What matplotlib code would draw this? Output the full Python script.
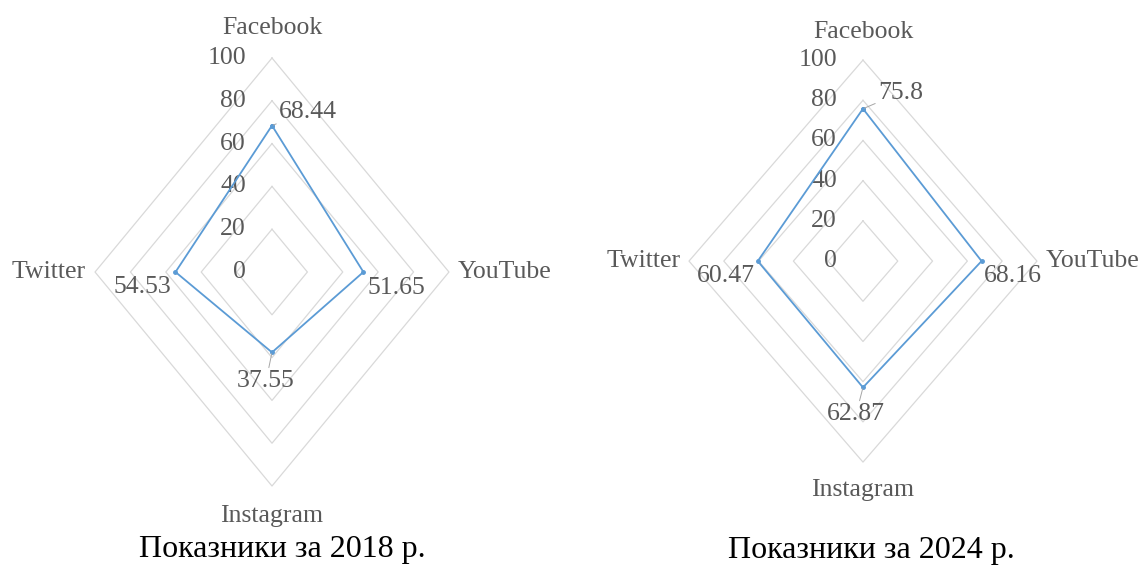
import numpy as np
import matplotlib
matplotlib.use('Agg')
import matplotlib.pyplot as plt

# Дані
categories = ['Facebook', 'YouTube', 'Instagram', 'Twitter']
values_2018 = [68.44, 51.65, 37.55, 54.53]
values_2024 = [75.8, 68.16, 62.87, 60.47]
ticks = [0, 20, 40, 60, 80, 100]
titles = ['Показники за 2018 р.', 'Показники за 2024 р.']

plt.rcParams['font.family'] = ['Liberation Serif', 'DejaVu Serif']

grey_txt = '#595959'
grid_col = '#d9d9d9'
line_col = '#5b9bd5'

# напрямки осей: вгору, вправо, вниз, вліво
dirs = np.array([[0, 1], [1, 0], [0, -1], [-1, 0]])

fig = plt.figure(figsize=(11.45, 5.65), dpi=100)


def radar(ax, vals, lab_off, leader):
    # кільця сітки
    for t in ticks[1:]:
        pts = np.vstack([dirs * t, dirs[:1] * t])
        ax.plot(pts[:, 0], pts[:, 1], color=grid_col, lw=0.9, zorder=1)
    # підписи шкали
    for t in ticks:
        ax.annotate(str(t), (0, t), xytext=(-26, 0), textcoords='offset pixels',
                    ha='right', va='center', fontsize=18.5, color=grey_txt)
    # ряд
    v = np.array(vals)
    pts = dirs * v[:, None]
    pts = np.vstack([pts, pts[:1]])
    ax.plot(pts[:, 0], pts[:, 1], color=line_col, lw=1.3, marker='o', ms=2.5, zorder=3)
    # назви категорій
    ax.text(0, 114, categories[0], ha='center', va='center', fontsize=18.5, color=grey_txt)
    ax.text(105, 0, categories[1], ha='left', va='center', fontsize=18.5, color=grey_txt)
    ax.text(0, -114, categories[2], ha='center', va='center', fontsize=18.5, color=grey_txt)
    ax.text(-105, 0, categories[3], ha='right', va='center', fontsize=18.5, color=grey_txt)
    # підписи даних
    has = ['left', 'left', 'center', 'right']
    for i in range(4):
        kw = {}
        if leader[i]:
            kw['arrowprops'] = dict(arrowstyle='-', color='#a6a6a6', lw=0.7,
                                    shrinkA=0, shrinkB=1)
        ax.annotate(f'{vals[i]:g}', pts[i], xytext=lab_off[i], textcoords='offset pixels',
                    ha=has[i], va='center', fontsize=18.5, color=grey_txt, **kw)
    ax.axis('off')


ax1 = fig.add_axes([0, 0, 570 / 1145, 1])
ax1.set_xlim(-153.7, 168.4)
ax1.set_ylim(-136.9, 127.1)
radar(ax1, values_2018,
      [(7, 14), (4, -16), (-6, -29), (-4, -15)],
      [True, False, True, False])

ax2 = fig.add_axes([570 / 1145, 0, 575 / 1145, 1])
ax2.set_xlim(-168.4, 162.1)
ax2.set_ylim(-151.2, 129.9)
radar(ax2, values_2024,
      [(15, 16), (2, -15), (-7, -27), (-3, -15)],
      [True, False, True, False])

fig.text(282 / 1145, 8 / 565, titles[0], ha='center', va='baseline', fontsize=23, color='black')
fig.text(871 / 1145, 7 / 565, titles[1], ha='center', va='baseline', fontsize=23, color='black')

fig.savefig('out.png', dpi=100)
